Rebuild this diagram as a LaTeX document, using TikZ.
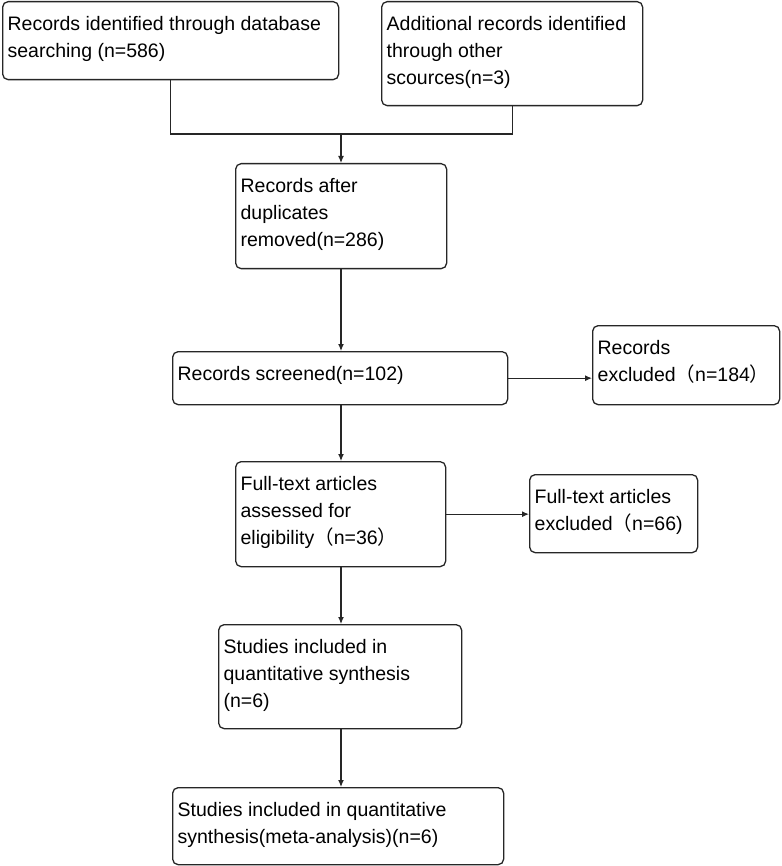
\documentclass[tikz,border=0pt]{standalone}
\usepackage{fontspec}
\setmainfont{Liberation Sans}
\newfontfamily\cjk{Noto Sans CJK SC}
\usetikzlibrary{arrows.meta}
\newcommand{\lp}{{\cjk （}}
\newcommand{\rp}{{\cjk ）}}
\newcommand{\boxtxt}[3]{\parbox[c][#2pt][t]{#1pt}{\raggedright #3}}
\begin{document}
\begin{tikzpicture}[x=1pt,y=-1pt,
    rec/.style={draw=black!85, line width=1.3pt, rounded corners=5.5pt,
      inner xsep=5pt, inner ysep=14.5pt, anchor=north west,
      font=\fontsize{19.5}{27}\selectfont},
    link/.style={draw=black!85, line width=1.2pt},
    arr/.style={link, -{Latex[length=7pt,width=6pt]}}]
          \useasboundingbox (0,0) rectangle (781,866);
          % prisma boxes
          \node (ident) at (2,1) [rec] {\boxtxt{326}{49}{Records identified through database\\searching (n=586)}};
          \node (other) at (381,1) [rec] {\boxtxt{251}{75}{Additional records identified\\through other\\scources(n=3)}};
          \node (dup) at (235,163) [rec] {\boxtxt{201}{76}{Records after\\duplicates\\removed(n=286)}};
          \node (screen) at (172,351) [rec] {\boxtxt{325}{24}{Records screened(n=102)}};
          \node (excl) at (592,325) [rec] {\boxtxt{177}{50}{Records\\excluded\lp n=184\rp}};
          \node (full) at (235,461) [rec] {\boxtxt{200}{76}{Full-text articles\\assessed for\\eligibility\lp n=36\rp}};
          \node (fexcl) at (529,474) [rec] {\boxtxt{158}{49}{Full-text articles\\excluded\lp n=66)}};
          \node (quant) at (218,624) [rec] {\boxtxt{233}{75}{Studies included in\\quantitative synthesis\\(n=6)}};
          \node (meta) at (172,787) [rec] {\boxtxt{321}{48}{Studies included in quantitative\\synthesis(meta-analysis)(n=6)}};
          \coordinate (merge) at (341,134);
          \draw[link] (ident.south) |- (merge) -| (other.south);
          \draw[arr] (merge) to (merge |- dup.north);
          \draw[arr] (merge |- dup.south) to (merge |- screen.north);
          \draw[arr] (screen.east) to (screen.east -| excl.west);
          \draw[arr] (merge |- screen.south) to (merge |- full.north);
          \draw[arr] (full.east) to (full.east -| fexcl.west);
          \draw[arr] (merge |- full.south) to (merge |- quant.north);
          \draw[arr] (merge |- quant.south) to (merge |- meta.north);
        \end{tikzpicture}
\end{document}
